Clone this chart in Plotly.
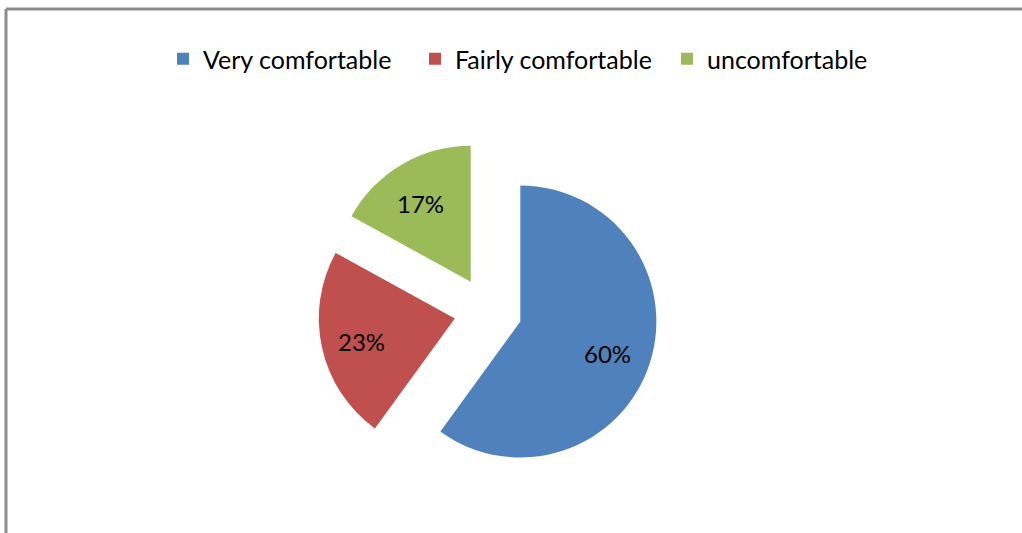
import numpy as np
import plotly.graph_objects as go

# Comfort survey shares
labels = ["Very comfortable", "Fairly comfortable", "uncomfortable"]
values = [60, 23, 17]
colors = ["#4F81BD", "#C0504D", "#9BBB59"]
pulls = [0.25, 0.25, 0.25]

W, H = 1022, 533
# pie domain in pixels (left, right, top, bottom)
DX0, DX1, DY0, DY1 = 318, 658, 141, 481

fig = go.Figure(
    go.Pie(
        labels=labels,
        values=values,
        marker=dict(colors=colors, line=dict(width=0)),
        pull=pulls,
        sort=False,
        direction="clockwise",
        rotation=0,
        textinfo="none",
        domain=dict(x=[DX0 / W, DX1 / W], y=[1 - DY1 / H, 1 - DY0 / H]),
        hoverinfo="label+percent",
    )
)

# percentage labels placed along each slice's mid-angle, inside the pulled slice
cx, cy = (DX0 + DX1) / 2, (DY0 + DY1) / 2
radius = (DX1 - DX0) / 2 / (1 + max(pulls))
vals = np.array(values, dtype=float)
shares = vals / vals.sum()
starts = np.concatenate([[0.0], np.cumsum(shares)[:-1]])
mids = (starts + shares / 2) * 2 * np.pi
annotations = []
for share, ang, p in zip(shares, mids, pulls):
    dx, dy = np.sin(ang), -np.cos(ang)
    dist = (p + 0.69) * radius
    px, py = cx + dist * dx - 2, cy + dist * dy + 3
    annotations.append(
        dict(
            x=px / W,
            y=1 - py / H,
            xref="paper",
            yref="paper",
            text=f"{share * 100:.0f}%",
            showarrow=False,
            font=dict(family="Lato", size=24, color="#000000"),
        )
    )

fig.update_layout(
    width=W,
    height=H,
    margin=dict(l=0, r=0, t=0, b=0),
    paper_bgcolor="white",
    plot_bgcolor="white",
    showlegend=True,
    legend=dict(
        orientation="h",
        x=163 / W,
        xanchor="left",
        y=1 - 59 / H,
        yanchor="middle",
        font=dict(family="Lato", size=25, color="#000000"),
        traceorder="normal",
        entrywidth=207,
        entrywidthmode="pixels",
    ),
    annotations=annotations,
    shapes=[
        dict(type="line", xref="paper", yref="paper",
             x0=6 / W, x1=6 / W, y0=0, y1=1 - 9 / H,
             line=dict(color="#8C8C8C", width=3)),
        dict(type="line", xref="paper", yref="paper",
             x0=6 / W, x1=1, y0=1 - 9 / H, y1=1 - 9 / H,
             line=dict(color="#8C8C8C", width=3)),
    ],
)

fig.write_html("out.html")
